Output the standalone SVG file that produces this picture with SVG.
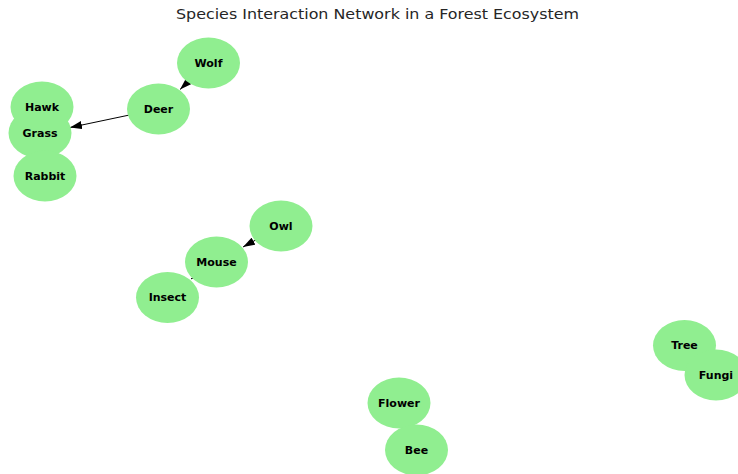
<svg xmlns="http://www.w3.org/2000/svg" width="738" height="474" viewBox="0 0 738 474">
<defs>
<marker id="arrow" viewBox="0 0 12 8" refX="12" refY="4" markerWidth="12" markerHeight="8" markerUnits="userSpaceOnUse" orient="auto">
<path d="M0,0 L12,4 L0,8 z" fill="#000"/>
</marker>
<style>
.node ellipse { fill: #90EE90; }
.label { font-family: "DejaVu Sans", Verdana, sans-serif; font-weight: bold; font-size: 11px; fill: #000; text-anchor: middle; dominant-baseline: central; }
.edge { stroke: #000; stroke-width: 1; fill: none; marker-end: url(#arrow); }
.title { font-family: "DejaVu Sans", Verdana, sans-serif; font-size: 14px; fill: #262626; text-anchor: middle; }
</style>
</defs>
<rect width="738" height="474" fill="#fff"/>
<text class="title" x="377.5" y="18.5" textLength="403" lengthAdjust="spacingAndGlyphs">Species Interaction Network in a Forest Ecosystem</text>
<g id="connectors">
<path class="edge" d="M208,63 L180,89.5"/>
<path class="edge" d="M158,109 L70,127.5"/>
<path class="edge" d="M281,226 L243,247"/>
<path class="edge" d="M216.5,262 L191,279"/>
</g>
<g id="nodes">
<g id="node-Wolf" class="node"><ellipse cx="208.5" cy="63" rx="31.5" ry="25.5"/></g>
<g id="node-Deer" class="node"><ellipse cx="158.5" cy="109" rx="31.5" ry="25.5"/></g>
<g id="node-Hawk" class="node"><ellipse cx="42" cy="107" rx="31.5" ry="25.5"/></g>
<g id="node-Grass" class="node"><ellipse cx="40" cy="133" rx="31.5" ry="25.5"/></g>
<g id="node-Rabbit" class="node"><ellipse cx="45" cy="176" rx="31.5" ry="25.5"/></g>
<g id="node-Owl" class="node"><ellipse cx="281" cy="226" rx="31.5" ry="25.5"/></g>
<g id="node-Mouse" class="node"><ellipse cx="216.5" cy="262" rx="31.5" ry="25.5"/></g>
<g id="node-Insect" class="node"><ellipse cx="167.5" cy="297.5" rx="31.5" ry="25.5"/></g>
<g id="node-Tree" class="node"><ellipse cx="684.5" cy="345.5" rx="31.5" ry="25.5"/></g>
<g id="node-Fungi" class="node"><ellipse cx="716" cy="375" rx="31.5" ry="25.5"/></g>
<g id="node-Flower" class="node"><ellipse cx="399" cy="403" rx="31.5" ry="25.5"/></g>
<g id="node-Bee" class="node"><ellipse cx="416.5" cy="450" rx="31.5" ry="25.5"/></g>
</g>
<g id="labels">
<text id="label-Wolf" class="label" x="208.5" y="63">Wolf</text>
<text id="label-Deer" class="label" x="158.5" y="109">Deer</text>
<text id="label-Hawk" class="label" x="42" y="107">Hawk</text>
<text id="label-Grass" class="label" x="40" y="133">Grass</text>
<text id="label-Rabbit" class="label" x="45" y="176">Rabbit</text>
<text id="label-Owl" class="label" x="281" y="226">Owl</text>
<text id="label-Mouse" class="label" x="216.5" y="262">Mouse</text>
<text id="label-Insect" class="label" x="167.5" y="297.5">Insect</text>
<text id="label-Tree" class="label" x="684.5" y="345.5">Tree</text>
<text id="label-Fungi" class="label" x="716" y="375">Fungi</text>
<text id="label-Flower" class="label" x="399" y="403">Flower</text>
<text id="label-Bee" class="label" x="416.5" y="450">Bee</text>
</g>
</svg>
